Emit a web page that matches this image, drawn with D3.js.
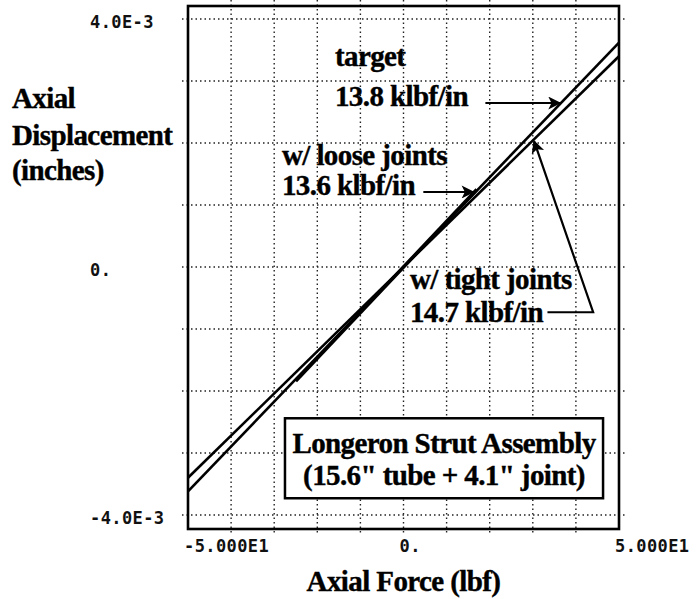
<!DOCTYPE html>
<html>
<head>
<meta charset="utf-8">
<script src="https://cdn.jsdelivr.net/npm/d3@7"></script>
<style>
  body { margin: 0; background: #fff; }
  .serif { font-family: "Liberation Serif", "DejaVu Serif", serif; font-weight: bold; font-size: 29px; letter-spacing: -0.6px; fill: #000; stroke: #000; stroke-width: 0.4px; }
  .tick { font-family: "DejaVu Sans Mono", monospace; font-weight: bold; font-size: 17px; letter-spacing: 0.4px; fill: #111; }
</style>
</head>
<body>
<svg id="chart" width="700" height="599"></svg>
<script>
// Axis ticks and labels
const xTicks = [-50, 0, 50];
const xTickLabels = ['-5.000E1', '0.', '5.000E1'];
const yTicks = [4e-3, 0, -4e-3];
const yTickLabels = ['4.0E-3', '0.', '-4.0E-3'];
const xGrid = [-40, -30, -20, -10, 0, 10, 20, 30, 40];
const yGrid = [-4e-3, -3e-3, -2e-3, -1e-3, 0, 1e-3, 2e-3, 3e-3, 4e-3];

// Force (lbf) vs displacement (in)
const targetLine = [[-50, -3.62e-3], [50, 3.62e-3]];   // 13.8 klbf/in
const tightLine = [[-50, -3.40e-3], [50, 3.40e-3]];    // 14.7 klbf/in
const looseLine = [[-25, -1.84e-3], [17, 1.25e-3]];    // 13.6 klbf/in (measured span)

const svg = d3.select('#chart');
svg.append('rect').attr('width', 700).attr('height', 599).attr('fill', '#fff');

const x = d3.scaleLinear().domain([-50, 50]).range([188, 619]);
const y = d3.scaleLinear().domain([-4.226e-3, 4.21e-3]).range([529, 6]);

// arrowhead
svg.append('defs').append('marker')
  .attr('id', 'head')
  .attr('viewBox', '0 0 10 10')
  .attr('refX', 9).attr('refY', 5)
  .attr('markerUnits', 'userSpaceOnUse')
  .attr('markerWidth', 20).attr('markerHeight', 13)
  .attr('orient', 'auto')
  .append('path').attr('d', 'M0,0 L10,5 L0,10 L2.5,5 Z').attr('fill', '#000');

// dotted grid, a little past the frame like the plotter ticks
const grid = svg.append('g')
  .attr('stroke', '#222').attr('stroke-width', 1.4).attr('stroke-dasharray', '1.5,3');
grid.selectAll('line.v').data(xGrid).join('line')
  .attr('class', 'v')
  .attr('x1', d => x(d)).attr('x2', d => x(d))
  .attr('y1', y.range()[1] - 6).attr('y2', y.range()[0] + 6);
grid.selectAll('line.h').data(yGrid).join('line')
  .attr('class', 'h')
  .attr('y1', d => y(d)).attr('y2', d => y(d))
  .attr('x1', x.range()[0] - 6).attr('x2', x.range()[1] + 6);

// stiffness lines
const line = d3.line().x(d => x(d[0])).y(d => y(d[1]));
svg.append('path').datum(targetLine).attr('d', line)
  .attr('fill', 'none').attr('stroke', '#000').attr('stroke-width', 2.6);
svg.append('path').datum(tightLine).attr('d', line)
  .attr('fill', 'none').attr('stroke', '#000').attr('stroke-width', 2.6);
svg.append('path').datum(looseLine).attr('d', line)
  .attr('fill', 'none').attr('stroke', '#000').attr('stroke-width', 3.5);

// legend box
const box = { x0: -27.5, x1: 46.3, y0: -2.44e-3, y1: -3.73e-3 };
svg.append('rect')
  .attr('x', x(box.x0)).attr('y', y(box.y0))
  .attr('width', x(box.x1) - x(box.x0)).attr('height', y(box.y1) - y(box.y0))
  .attr('fill', '#fff').attr('stroke', '#000').attr('stroke-width', 2.5);
svg.append('text').attr('class', 'serif').attr('text-anchor', 'middle')
  .attr('x', x(9.4)).attr('y', y(-3.0e-3)).text('Longeron Strut Assembly');
svg.append('text').attr('class', 'serif').attr('text-anchor', 'middle')
  .attr('x', x(9.4)).attr('y', y(-3.52e-3)).text('(15.6" tube + 4.1" joint)');

// frame
svg.append('rect')
  .attr('x', x.range()[0]).attr('y', y.range()[1])
  .attr('width', x.range()[1] - x.range()[0]).attr('height', y.range()[0] - y.range()[1])
  .attr('fill', 'none').attr('stroke', '#000').attr('stroke-width', 2.6);

// tick labels
svg.selectAll('text.xt').data(xTicks).join('text')
  .attr('class', 'tick xt')
  .attr('x', d => x(d) - 4).attr('y', 552)
  .text((d, i) => xTickLabels[i]);
svg.selectAll('text.yt').data(yTicks).join('text')
  .attr('class', 'tick yt')
  .attr('x', 90).attr('y', d => y(d) + 9)
  .text((d, i) => yTickLabels[i]);

// axis titles
svg.append('text').attr('class', 'serif').attr('text-anchor', 'middle')
  .attr('x', x(0)).attr('y', 591).text('Axial Force (lbf)');
[['Axial', 108], ['Displacement', 145], ['(inches)', 180]].forEach(([t, ty]) => {
  svg.append('text').attr('class', 'serif').attr('x', 12).attr('y', ty).text(t);
});

// annotations
const notes = [
  ['target', -15.9, 3.24e-3],
  ['13.8 klbf/in', -15.9, 2.60e-3],
  ['w/ loose joints', -28.2, 1.65e-3],
  ['13.6 klbf/in', -28.2, 1.16e-3],
  ['w/ tight joints', 1.5, -0.355e-3],
  ['14.7 klbf/in', 1.5, -0.89e-3]
];
svg.selectAll('text.note').data(notes).join('text')
  .attr('class', 'serif note')
  .attr('x', d => x(d[1])).attr('y', d => y(d[2]))
  .text(d => d[0]);

const arrows = [
  [[19.0, 2.645e-3], [36.3, 2.645e-3]],
  [[4.6, 1.21e-3], [16.2, 1.21e-3]],
  [[33.4, -0.73e-3], [44.0, -0.73e-3], [30.3, 2.03e-3]]
];
svg.selectAll('path.arrow').data(arrows).join('path')
  .attr('class', 'arrow')
  .attr('d', line)
  .attr('fill', 'none').attr('stroke', '#000').attr('stroke-width', 2.2)
  .attr('marker-end', 'url(#head)');
</script>
</body>
</html>
